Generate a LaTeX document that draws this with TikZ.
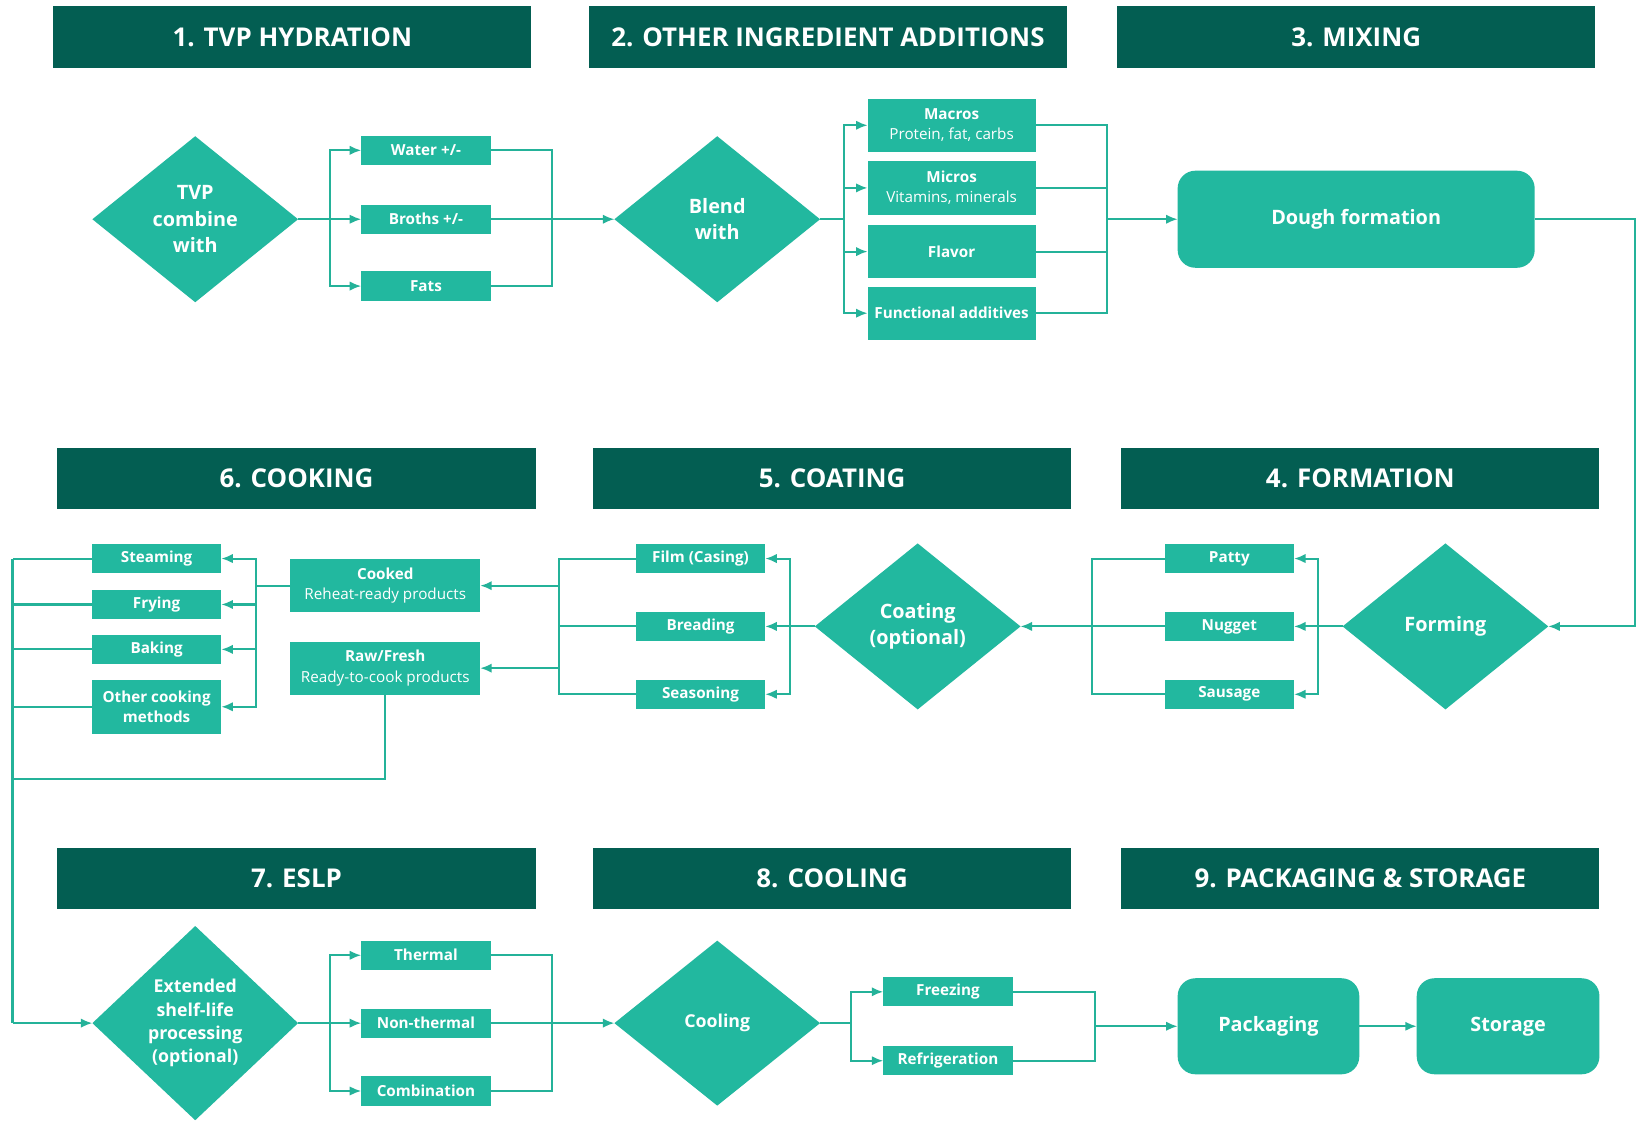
\documentclass[tikz,border=0pt]{standalone}
\usepackage{fontspec}
\setmainfont{Open Sans}
\usetikzlibrary{shapes.geometric,arrows.meta}
\definecolor{hdrc}{RGB}{3,94,82}
\definecolor{tl}{RGB}{34,184,159}
\definecolor{lnc}{RGB}{36,178,153}
\begin{document}
\begin{tikzpicture}[x=1pt,y=-1pt,
 hdr/.style={fill=hdrc,minimum width=458pt,minimum height=59pt,inner sep=0,outer sep=0,text=white,font=\fontsize{24.8}{28}\selectfont\bfseries},
 dia/.style={diamond,fill=tl,minimum width=197pt,minimum height=159pt,inner sep=0,outer sep=0,text=white,align=center,font=\fontsize{19}{25.5}\selectfont\bfseries},
 sbox/.style={fill=tl,minimum width=124pt,minimum height=28pt,inner sep=0,outer sep=0,text=white,align=center,font=\fontsize{14.6}{19.5}\selectfont\bfseries},
 wbox/.style={sbox,minimum width=161pt,minimum height=51pt},
 rbox/.style={fill=tl,rounded corners=17pt,inner sep=0,outer sep=0,text=white,font=\fontsize{19}{24}\selectfont\bfseries},
 ln/.style={draw=lnc,line width=2pt},
 arr/.style={ln,-{Latex[length=11pt,width=9pt]}}]
\fill[white] (0,0) rectangle (1568,1073);
\path[use as bounding box] (0,0) rectangle (1568,1073);

% ---------- Row 1 ----------
\node[hdr] (h1) at (280,35.5) {1. TVP HYDRATION};
\node[hdr] (h2) at (793,35.5) {2. OTHER INGREDIENT ADDITIONS};
\node[hdr] (h3) at (1299,35.5) {3. MIXING};
\node[dia] (tvp) at (187,210) {TVP\\combine\\with};
\node[sbox] (water) at (408,144) {Water +/-};
\node[sbox] (broths) at (408,210) {Broths +/-};
\node[sbox] (fats) at (408,274) {Fats};
\coordinate (s1) at (316,210);
\coordinate (m1) at (529,210);
\node[dia] (blend) at (687,210) {Blend\\with};
\node[wbox] (macros) at (911.5,120) {Macros\\{\mdseries Protein, fat, carbs}};
\node[wbox] (micros) at (911.5,180) {Micros\\{\mdseries Vitamins, minerals}};
\node[wbox] (flavor) at (911.5,241) {Flavor};
\node[wbox] (func) at (911.5,300) {Functional additives};
\coordinate (s2) at (808,210);
\coordinate (m2) at (1060,210);
\node[rbox,minimum width=342pt,minimum height=93pt] (dough) at (1299,210) {Dough formation};
\coordinate (r1) at (1566,600);

% ---------- Row 2 ----------
\node[hdr] (h6) at (284,458.5) {6. COOKING};
\node[hdr] (h5) at (797,458.5) {5. COATING};
\node[hdr] (h4) at (1303,458.5) {4. FORMATION};
\node[dia] (forming) at (1384.5,600) {Forming};
\node[sbox] (patty) at (1177.5,535) {Patty};
\node[sbox] (nugget) at (1177.5,600) {Nugget};
\node[sbox] (sausage) at (1177.5,665) {Sausage};
\coordinate (s4) at (1262,600);
\coordinate (m4) at (1046,600);
\node[dia] (coating) at (879,600) {Coating\\(optional)};
\node[sbox] (film) at (671,535) {Film (Casing)};
\node[sbox] (bread) at (671,600) {Breading};
\node[sbox] (season) at (671,665) {Seasoning};
\coordinate (s5) at (757,600);
\coordinate (m5) at (535,600);
\node[wbox,minimum width=182pt] (cooked) at (369,561) {Cooked\\{\mdseries Reheat-ready products}};
\node[wbox,minimum width=182pt] (raw) at (369,640) {Raw/Fresh\\{\mdseries Ready-to-cook products}};
\coordinate (s6) at (245,561);
\node[sbox] (steam) at (150,535) {Steaming};
\node[sbox] (fry) at (150,579) {Frying};
\node[sbox] (bake) at (150,622) {Baking};
\node[sbox,minimum height=52pt] (other) at (150,677) {Other cooking\\methods};
\coordinate (bus) at (12,980);
\coordinate (rb) at (12,746);

% ---------- Row 3 ----------
\node[hdr] (h7) at (284,841.5) {7. ESLP};
\node[hdr] (h8) at (797,841.5) {8. COOLING};
\node[hdr] (h9) at (1303,841.5) {9. PACKAGING \& STORAGE};
\node[dia,minimum height=186pt,font=\fontsize{17}{22.3}\selectfont\bfseries] (eslp) at (187,980) {Extended\\shelf-life\\processing\\(optional)};
\node[sbox] (thermal) at (408,915) {Thermal};
\node[sbox] (nonth) at (408,980) {Non-thermal};
\node[sbox] (combo) at (408,1045) {Combination};
\coordinate (s7) at (316,980);
\coordinate (m7) at (529,980);
\node[dia,minimum height=158pt,font=\fontsize{17}{22}\selectfont\bfseries] (cooling) at (687,980) {Cooling};
\node[sbox] (freeze) at (908,950) {Freezing};
\node[sbox] (refrig) at (908,1016) {Refrigeration};
\coordinate (s8) at (815,980);
\coordinate (m8) at (1049,983);
\node[rbox,minimum width=174pt,minimum height=92pt] (pack) at (1215,983) {Packaging};
\node[rbox,minimum width=175pt,minimum height=92pt] (store) at (1444.5,983) {Storage};

% ---------- Connectors row 1 ----------
\draw[arr] (tvp.east) -- (broths);
\draw[arr] (s1) |- (water);
\draw[arr] (s1) |- (fats);
\draw[ln] (water.east) -| (m1);
\draw[ln] (fats.east) -| (m1);
\draw[arr] (broths.east) -- (blend);
\draw[ln] (blend.east) -- (s2);
\draw[arr] (s2) |- (macros);
\draw[arr] (s2) |- (micros);
\draw[arr] (s2) |- (flavor);
\draw[arr] (s2) |- (func);
\draw[ln] (macros.east) -| (m2);
\draw[ln] (micros.east) -| (m2);
\draw[ln] (flavor.east) -| (m2);
\draw[ln] (func.east) -| (m2);
\draw[arr] (m2) -- (dough);
\draw[arr] (dough.east) -| (r1) -- (forming);

% ---------- Connectors row 2 ----------
\draw[arr] (forming.west) -- (nugget);
\draw[arr] (s4) |- (patty);
\draw[arr] (s4) |- (sausage);
\draw[ln] (patty.west) -| (m4);
\draw[ln] (sausage.west) -| (m4);
\draw[arr] (nugget.west) -- (coating);
\draw[arr] (coating.west) -- (bread);
\draw[arr] (s5) |- (film);
\draw[arr] (s5) |- (season);
\draw[ln] (film.west) -| (m5);
\draw[ln] (season.west) -| (m5);
\draw[ln] (bread.west) -- (m5);
\draw[arr] (cooked.east -| m5) -- (cooked.east);
\draw[arr] (raw.east -| m5) -- (raw.east);
\draw[ln] (cooked.west) -- (s6);
\draw[arr] (s6) |- (steam);
\draw[arr] (s6) |- (fry);
\draw[arr] (s6) |- (bake);
\draw[arr] (s6) |- (other);
\draw[ln] (steam.west) -- (steam.west -| bus);
\draw[ln] (fry.west) -- (fry.west -| bus);
\draw[ln] (bake.west) -- (bake.west -| bus);
\draw[ln] (other.west) -- (other.west -| bus);
\draw[ln] (steam.west -| bus) -- (bus);
\draw[ln] (raw.south) |- (rb);
\draw[arr] (bus) -- (eslp);

% ---------- Connectors row 3 ----------
\draw[arr] (eslp.east) -- (nonth);
\draw[arr] (s7) |- (thermal);
\draw[arr] (s7) |- (combo);
\draw[ln] (thermal.east) -| (m7);
\draw[ln] (combo.east) -| (m7);
\draw[arr] (nonth.east) -- (cooling);
\draw[ln] (cooling.east) -- (s8);
\draw[arr] (s8) |- (freeze);
\draw[arr] (s8) |- (refrig);
\draw[ln] (freeze.east) -| (m8);
\draw[ln] (refrig.east) -| (m8);
\draw[arr] (m8) -- (pack);
\draw[arr] (pack) -- (store);
\end{tikzpicture}
\end{document}
